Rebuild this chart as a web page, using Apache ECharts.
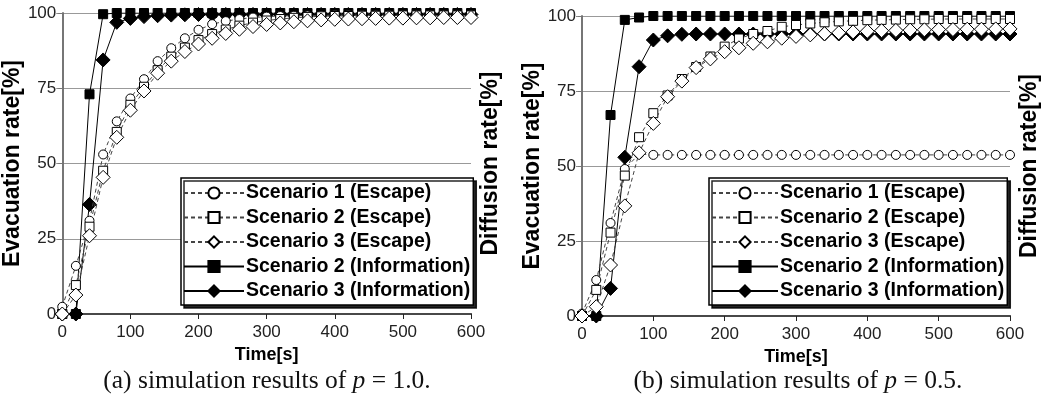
<!DOCTYPE html>
<html>
<head>
<meta charset="utf-8">
<script src="https://cdn.jsdelivr.net/npm/echarts@6/dist/echarts.min.js"></script>
<style>
  html, body { margin: 0; padding: 0; background: #fff; }
  #main { width: 1044px; height: 400px; }
</style>
</head>
<body>
<div id="main"></div>
<script>
// time samples [s]
const times = [0, 20, 40, 60, 80, 100, 120, 140, 160, 180, 200, 220, 240, 260, 280, 300,
  320, 340, 360, 380, 400, 420, 440, 460, 480, 500, 520, 540, 560, 580, 600];
const yTicks = [0, 25, 50, 75, 100];

// (a) p = 1.0
const s1EscA = [2.4, 16, 31, 53, 64, 71.6, 78, 84, 88.3, 91.6, 94.4, 96.3, 97.3, 98, 98.5, 98.8,
  99, 99.1, 99.2, 99.2, 99.3, 99.3, 99.3, 99.3, 99.3, 99.3, 99.3, 99.3, 99.3, 99.3, 99.3];
const s2EscA = [0, 9.6, 29, 47.6, 60.5, 69.5, 75.5, 81, 85.5, 88.5, 91, 93, 94.5, 95.8, 96.8, 97.5,
  98, 98.4, 98.7, 98.9, 99, 99, 99.1, 99.1, 99.1, 99.2, 99.2, 99.2, 99.2, 99.2, 99.2];
const s3EscA = [0, 6.3, 26, 45.4, 58.7, 67.7, 74.1, 80, 84, 87.2, 89.7, 91.6, 93.2, 94.6, 95.5, 96.2,
  96.7, 97.1, 97.4, 97.7, 97.9, 98, 98.1, 98.2, 98.3, 98.3, 98.4, 98.4, 98.5, 98.5, 98.5];
const s2InfA = [0, 0, 73, 99.6, 100, 100, 100, 100, 100, 100, 100, 100, 100, 100, 100, 100,
  100, 100, 100, 100, 100, 100, 100, 100, 100, 100, 100, 100, 100, 100, 100];
const s3InfA = [0, 0, 36.4, 84.4, 96.9, 98.2, 98.8, 99.1, 99.3, 99.4, 99.5, 99.5, 99.5, 99.5, 99.5, 99.5,
  99.5, 99.5, 99.5, 99.5, 99.5, 99.5, 99.5, 99.5, 99.5, 99.5, 99.5, 99.5, 99.5, 99.5, 99.5];

// (b) p = 0.5
const s1EscB = [0.8, 12, 31, 49, 54, 53.7, 53.7, 53.7, 53.7, 53.7, 53.7, 53.7, 53.7, 53.7, 53.7, 53.7,
  53.7, 53.7, 53.7, 53.7, 53.7, 53.7, 53.7, 53.7, 53.7, 53.7, 53.7, 53.7, 53.7, 53.7, 53.7];
const s2EscB = [0, 8.7, 27.8, 46.8, 59.6, 67.6, 73.5, 79, 83, 86.5, 89.8, 92.5, 94, 95, 96.4, 97,
  97.5, 97.9, 98.2, 98.4, 98.6, 98.7, 98.8, 98.9, 98.9, 99, 99, 99, 99, 99, 99];
const s3EscB = [0, 3.1, 17, 36.7, 54.4, 64.2, 73.1, 78.3, 82.8, 85.7, 88.1, 89.4, 90.9, 91.4, 92.6, 93.2,
  93.7, 94.1, 94.4, 94.7, 94.9, 95.1, 95.2, 95.3, 95.4, 95.5, 95.5, 95.6, 95.6, 95.7, 95.7];
const s2InfB = [0, 0, 67, 98.7, 99.5, 100, 100, 100, 100, 100, 100, 100, 100, 100, 100, 100,
  100, 100, 100, 100, 100, 100, 100, 100, 100, 100, 100, 100, 100, 100, 100];
const s3InfB = [0, 0, 9.2, 52.9, 83.1, 92, 93.4, 93.9, 94, 94, 94, 94, 94, 94, 94, 94,
  94, 94, 94, 94, 94, 94, 94, 94, 94, 94, 94, 94, 94, 94, 94];

const names = ['Scenario 1 (Escape)', 'Scenario 2 (Escape)', 'Scenario 3 (Escape)',
  'Scenario 2 (Information)', 'Scenario 3 (Information)'];

const SANS = 'Liberation Sans, Arial, sans-serif';
const SERIF = 'Liberation Serif, Times New Roman, serif';

// marker / line look for each series name
const looks = {
  'Scenario 1 (Escape)': { symbol: 'circle', size: 9, fill: '#fff', dash: true },
  'Scenario 2 (Escape)': { symbol: 'rect', size: 9, fill: '#fff', dash: true },
  'Scenario 3 (Escape)': { symbol: 'diamond', size: 14, fill: '#fff', dash: true },
  'Scenario 2 (Information)': { symbol: 'rect', size: 9, fill: '#000', dash: false },
  'Scenario 3 (Information)': { symbol: 'diamond', size: 14, fill: '#000', dash: false }
};

function pairs(vals) {
  return times.map((t, i) => [t, vals[i]]);
}

function line(name, vals, idx) {
  let lk = looks[name];
  return {
    name: name,
    type: 'line',
    xAxisIndex: idx * 2,
    yAxisIndex: idx * 2,
    data: pairs(vals),
    symbol: lk.symbol,
    symbolSize: lk.size,
    showAllSymbol: true,
    z: lk.dash ? 3 : 2,
    itemStyle: { color: lk.fill, borderColor: '#000', borderWidth: 1 },
    lineStyle: { color: lk.dash ? '#444' : '#000', width: 1, type: lk.dash ? [4, 3] : 'solid' },
    emphasis: { disabled: true },
    animation: false
  };
}

function axesFor(idx) {
  let x = [{
    gridIndex: idx, type: 'value', min: 0, max: 600, interval: 100, position: 'bottom',
    axisLine: { lineStyle: { color: '#222', width: 2 } },
    axisTick: { length: 5, lineStyle: { color: '#222' } },
    axisLabel: { fontSize: 17, color: '#222', fontFamily: SANS, margin: 10 },
    splitLine: { show: false },
    name: 'Time[s]', nameLocation: 'middle', nameGap: 30,
    nameTextStyle: { fontSize: 18, fontWeight: 'bold', color: '#000', fontFamily: SANS }
  }, {
    gridIndex: idx, type: 'value', min: 0, max: 600, position: 'top',
    axisLine: { lineStyle: { color: '#555', width: 1.5 } },
    axisTick: { show: false }, axisLabel: { show: false }, splitLine: { show: false }
  }];
  let y = [{
    gridIndex: idx, type: 'value', min: yTicks[0], max: yTicks[yTicks.length - 1], interval: 25,
    axisLine: { show: true, lineStyle: { color: '#444', width: 1.5 } },
    axisTick: { show: true, length: 6, lineStyle: { color: '#888' } },
    axisLabel: { fontSize: 17, color: '#222', fontFamily: SANS, margin: 6 },
    splitLine: { show: true, lineStyle: { color: '#999', width: 1 } },
    name: 'Evacuation rate[%]', nameLocation: 'middle', nameRotate: 90, nameGap: 25,
    nameTextStyle: { fontSize: 23, fontWeight: 'bold', color: '#000', fontFamily: SANS }
  }, {
    gridIndex: idx, type: 'value', min: 0, max: 100, interval: 25, position: 'right',
    axisLine: { show: true, lineStyle: { color: '#777', width: 1.5 } },
    axisTick: { show: true, inside: true, length: 4, lineStyle: { color: '#777' } },
    axisLabel: { show: false }, splitLine: { show: false },
    name: 'Diffusion rate[%]', nameLocation: 'middle', nameRotate: 90, nameGap: 8,
    nameTextStyle: { fontSize: 23, fontWeight: 'bold', color: '#000', fontFamily: SANS }
  }];
  return { x: x, y: y };
}

function legendAt(left, top, iconW) {
  return {
    data: names,
    orient: 'vertical',
    left: left, top: top,
    itemWidth: iconW, itemHeight: 14, itemGap: 4.5,
    padding: [5, 3, 4, 2],
    backgroundColor: '#fff',
    borderColor: '#000', borderWidth: 1.5,
    shadowColor: 'rgba(0,0,0,0.85)', shadowOffsetX: 3, shadowOffsetY: 3, shadowBlur: 0,
    selectedMode: false,
    textStyle: { fontSize: 19.5, fontWeight: 'bold', color: '#000', fontFamily: SANS, padding: [0, 0, 0, -3] }
  };
}

const a = axesFor(0), b = axesFor(1);

const chart = echarts.init(document.getElementById('main'));
chart.setOption({
  animation: false,
  backgroundColor: '#fff',
  grid: [
    { left: 58, top: 13, width: 413, height: 301 },
    { left: 582, top: 16, width: 428, height: 300 }
  ],
  xAxis: a.x.concat(b.x),
  yAxis: a.y.concat(b.y),
  legend: [legendAt(181, 178, 60), legendAt(709, 178, 66)],
  series: [
    line(names[3], s2InfA, 0), line(names[4], s3InfA, 0),
    line(names[0], s1EscA, 0), line(names[1], s2EscA, 0), line(names[2], s3EscA, 0),
    line(names[3], s2InfB, 1), line(names[4], s3InfB, 1),
    line(names[0], s1EscB, 1), line(names[1], s2EscB, 1), line(names[2], s3EscB, 1)
  ],
  graphic: [
    {
      type: 'text', x: 267, y: 381,
      style: {
        text: '(a) simulation results of {i|p} = 1.0.',
        font: '25.5px ' + SERIF, fill: '#111', align: 'center', verticalAlign: 'middle',
        rich: { i: { fontStyle: 'italic', fontSize: 25.5, fontFamily: SERIF, fill: '#111' } }
      }
    },
    {
      type: 'text', x: 798, y: 381,
      style: {
        text: '(b) simulation results of {i|p} = 0.5.',
        font: '25.5px ' + SERIF, fill: '#111', align: 'center', verticalAlign: 'middle',
        rich: { i: { fontStyle: 'italic', fontSize: 25.5, fontFamily: SERIF, fill: '#111' } }
      }
    }
  ]
});
</script>
</body>
</html>
